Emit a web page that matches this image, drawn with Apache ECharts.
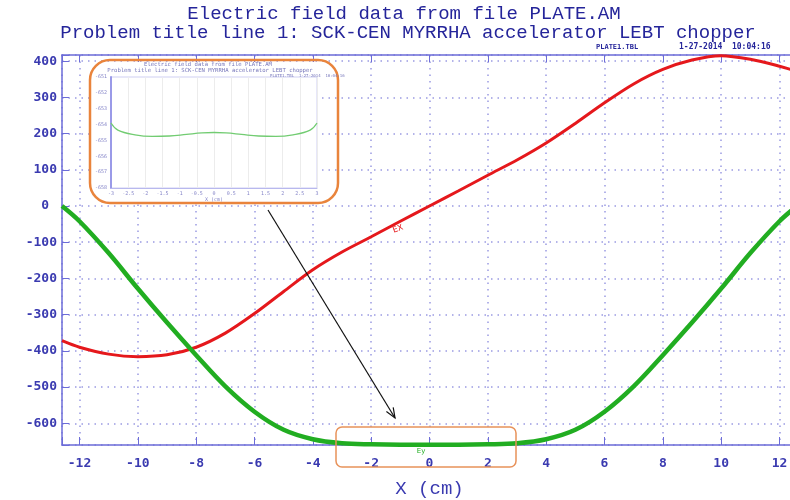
<!DOCTYPE html>
<html><head><meta charset="utf-8">
<script src="https://cdn.jsdelivr.net/npm/echarts@6/dist/echarts.min.js"></script>
<style>html,body{margin:0;padding:0;background:#fff}#c{width:790px;height:500px}</style>
</head><body><div id="c"></div>
<script>
// ---- data ----
const xValues  = [-12.6,-12,-11,-10,-9,-8,-7,-6,-5,-4,-3,-2,-1,0,1,2,3,4,5,6,7,8,9,10,11,12,12.6];
const exValues = [-372,-390,-409,-416,-411,-390,-351,-297,-236,-176,-127,-85,-42,0,42,85,127,174,228,285,337,377,403,415,405,386,372];
const eyValues = [0,-42,-130,-228,-322,-412,-498,-568,-618,-644,-655,-658,-659,-659,-659,-658,-655,-644,-618,-568,-498,-412,-322,-228,-130,-42,0];
// inset (zoom on the flat part of Ey)
const insetX  = [-3,-2.8,-2.3,-1.8,-1.3,-0.8,-0.35,0,0.35,0.8,1.3,1.8,2.3,2.8,3];
const insetEy = [-653.9,-654.35,-654.65,-654.75,-654.72,-654.62,-654.53,-654.5,-654.53,-654.62,-654.72,-654.75,-654.65,-654.35,-653.9];

const titleLine1 = 'Electric field data from file PLATE.AM';
const titleLine2 = 'Problem title line 1: SCK-CEN MYRRHA accelerator LEBT chopper';
const fileTag = 'PLATE1.TBL';
const dateTag = '1-27-2014  10:04:16';

const AX = '#6c6cd8', LBL = '#3a3ab0', TTL = '#25259a', GRIDC = '#9b9be2';
const mono = 'DejaVu Sans Mono';
const pair = (xs, ys) => xs.map((x, i) => [x, ys[i]]);

const chart = echarts.init(document.getElementById('c'));
chart.setOption({
  animation: false,
  backgroundColor: '#fff',
  grid: [
    {left: 62, width: 735, top: 55, height: 390, outerBoundsMode: 'none', containLabel: false},
    {left: 111, top: 77, width: 206, height: 111, show: true, borderColor: '#cfcff2', borderWidth: 1, backgroundColor: '#fff', z: 3, outerBoundsMode: 'none', containLabel: false}
  ],
  xAxis: [
    {gridIndex: 0, type: 'value', min: -12.6, max: 12.6, minInterval: 2, maxInterval: 2,
     axisLine: {onZero: false, lineStyle: {color: AX, width: 1.5}},
     axisTick: {inside: true, length: 8, lineStyle: {color: AX}},
     axisLabel: {color: LBL, fontFamily: mono, fontWeight: 'bold', fontSize: 13, margin: 12,
       formatter: v => (Math.abs(v % 2) < 1e-9 ? String(v) : '')},
     splitLine: {show: true, lineStyle: {color: GRIDC, type: [1.5, 5], width: 1.5}},
     name: 'X (cm)', nameLocation: 'middle', nameGap: 34,
     nameTextStyle: {color: LBL, fontFamily: 'Liberation Mono', fontSize: 19}},
    {gridIndex: 0, type: 'value', position: 'top', min: -12.6, max: 12.6, minInterval: 2, maxInterval: 2,
     axisLine: {onZero: false, lineStyle: {color: AX, width: 1.5}},
     axisTick: {inside: true, length: 7, lineStyle: {color: AX}},
     axisLabel: {show: false}, splitLine: {show: false}},
    {gridIndex: 1, type: 'value', min: -3, max: 3, interval: 0.5, z: 4,
     axisLine: {onZero: false, lineStyle: {color: '#b8b8ee', width: 1}},
     axisTick: {show: false},
     axisLabel: {color: '#8585c8', fontSize: 5, margin: 3, fontFamily: mono},
     splitLine: {show: true, lineStyle: {color: '#ececec', width: 1}},
     name: 'X (cm)', nameLocation: 'middle', nameGap: 9,
     nameTextStyle: {color: '#8585c8', fontSize: 5, fontFamily: mono}}
  ],
  yAxis: [
    {gridIndex: 0, type: 'value', min: -660, max: 417, minInterval: 100, maxInterval: 100,
     axisLine: {show: true, onZero: false, lineStyle: {color: AX, width: 1.5}},
     axisTick: {show: true, inside: true, length: 7, lineStyle: {color: AX}},
     axisLabel: {color: LBL, fontFamily: mono, fontWeight: 'bold', fontSize: 13, margin: 5,
       formatter: v => (Math.abs(v % 100) < 1e-9 ? (v === 0 ? '0\u00a0' : String(v)) : '')},
     splitLine: {show: true, lineStyle: {color: GRIDC, type: [1.5, 5], width: 1.5}}},
    {gridIndex: 1, type: 'value', min: -658, max: -651, interval: 1, z: 4,
     axisLine: {show: true, onZero: false, lineStyle: {color: '#9a9ae8', width: 2}},
     axisTick: {show: false},
     axisLabel: {color: '#8585c8', fontSize: 5, margin: 4, fontFamily: mono},
     splitLine: {show: false}}
  ],
  series: [
    {type: 'line', xAxisIndex: 0, yAxisIndex: 0, data: pair(xValues, exValues), smooth: 0.3,
     showSymbol: false, lineStyle: {color: '#e5181c', width: 3}, z: 3},
    {type: 'line', xAxisIndex: 0, yAxisIndex: 0, data: pair(xValues, eyValues), smooth: 0.35, clip: false,
     showSymbol: false, lineStyle: {color: '#21ad21', width: 4.5}, z: 3},
    {type: 'line', xAxisIndex: 2, yAxisIndex: 1, data: pair(insetX, insetEy), smooth: 0.4,
     showSymbol: false, lineStyle: {color: '#72cc72', width: 1.3}, z: 6}
  ],
  graphic: [
    {type: 'text', x: 404, y: 14, z: 10, style: {text: titleLine1, fill: TTL, font: '19px "Liberation Mono"', textAlign: 'center', textVerticalAlign: 'middle'}},
    {type: 'text', x: 408, y: 33, z: 10, style: {text: titleLine2, fill: TTL, font: '19px "Liberation Mono"', textAlign: 'center', textVerticalAlign: 'middle'}},
    {type: 'text', x: 596, y: 47, z: 10, style: {text: fileTag, fill: TTL, font: 'bold 7px "DejaVu Sans Mono"', textVerticalAlign: 'middle'}},
    {type: 'text', x: 679, y: 47, z: 10, style: {text: dateTag, fill: TTL, font: 'bold 8px "DejaVu Sans Mono"', textVerticalAlign: 'middle'}},
    // inset backdrop and frame
    {type: 'rect', z: 1, shape: {x: 92, y: 62, width: 228, height: 139}, style: {fill: '#fff'}},
    {type: 'rect', z: 10, shape: {x: 90, y: 60, width: 248, height: 143, r: 20}, style: {fill: null, stroke: '#e9843c', lineWidth: 2.5}},
    {type: 'text', x: 208, y: 65, z: 10, style: {text: titleLine1, fill: '#7777bb', font: '5.6px "DejaVu Sans Mono"', textAlign: 'center', textVerticalAlign: 'middle'}},
    {type: 'text', x: 210, y: 71, z: 10, style: {text: titleLine2, fill: '#7777bb', font: '5.6px "DejaVu Sans Mono"', textAlign: 'center', textVerticalAlign: 'middle'}},
    {type: 'text', x: 270, y: 76, z: 10, style: {text: fileTag + '  ' + dateTag, fill: '#7777bb', font: '4px "DejaVu Sans Mono"', textVerticalAlign: 'middle'}},
    // bottom highlight box
    {type: 'rect', z: 10, shape: {x: 336, y: 427, width: 180, height: 40, r: 6}, style: {fill: null, stroke: '#e8925a', lineWidth: 1.5}},
    // arrow
    {type: 'line', z: 10, shape: {x1: 268, y1: 210, x2: 395, y2: 418}, style: {stroke: '#111', lineWidth: 1.2}},
    {type: 'polyline', z: 10, shape: {points: [[386.4, 411.6], [395, 418], [393.2, 407.4]]}, style: {stroke: '#111', lineWidth: 1.2, fill: null}},
    // curve labels
    {type: 'text', x: 398, y: 229, rotation: 0.35, z: 10, style: {text: 'EX', fill: '#e5181c', font: '8px "DejaVu Sans"', textAlign: 'center', textVerticalAlign: 'middle'}},
    {type: 'text', x: 421, y: 451, z: 10, style: {text: 'Ey', fill: '#21ad21', font: '7px "DejaVu Sans"', textAlign: 'center', textVerticalAlign: 'middle'}}
  ]
});
</script></body></html>
